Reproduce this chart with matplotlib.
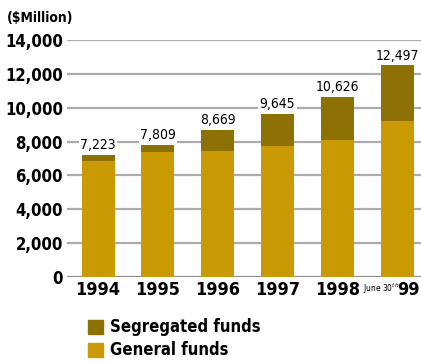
import matplotlib.pyplot as plt
import matplotlib.patches as mpatches
import matplotlib.transforms as mtransforms
import numpy as np

# values in $Million
years = ['1994', '1995', '1996', '1997', '1998', '99']
totals = [7223, 7809, 8669, 9645, 10626, 12497]
general = [6880, 7380, 7450, 7720, 8115, 9225]
segregated = [t - g for t, g in zip(totals, general)]
yticks = [0, 2000, 4000, 6000, 8000, 10000, 12000, 14000]

gen_color = '#c99a04'
seg_color = '#8d7104'
font = dict(family='DejaVu Sans', stretch='condensed')

fig = plt.figure(figsize=(4.21, 3.62), dpi=100)
ax = fig.add_axes([67/421, 85/362, 354/421, 237/362])

x = np.arange(len(years))
ax.bar(x, general, width=0.55, color=gen_color, zorder=3)
ax.bar(x, segregated, width=0.55, bottom=general, color=seg_color, zorder=3)

for xi, t in zip(x, totals):
    ax.annotate(f'{t:,}', (xi, t), xytext=(0, 2), textcoords='offset points',
                ha='center', va='bottom', fontsize=10, zorder=4,
                bbox=dict(facecolor='white', edgecolor='none', pad=1), **font)

ax.set_ylim(0, 14000)
ax.set_xlim(-0.52, 5.4)
ax.set_yticks(yticks)
ax.set_yticklabels([f'{v:,}' for v in yticks], fontsize=12, fontweight='bold', **font)
ax.set_xticks(x)
ax.set_xticklabels(years, fontsize=13, fontweight='bold', **font)
ax.tick_params(length=0, pad=3)
# the "99" label sits a bit right of its bar
last = ax.get_xticklabels()[-1]
last.set_transform(last.get_transform() + mtransforms.ScaledTranslation(0.11, 0, fig.dpi_scale_trans))
for s in ax.spines.values():
    s.set_visible(False)
for v in yticks:
    ax.axhline(v, color='#8f8f8f' if v == 0 else '#ababab', lw=1.6, zorder=1)

ax.text(4.73, -700, 'June 30$^{th}$', ha='center', va='center', fontsize=6, **font)
fig.text(7/421, 1 - 18/362, '($Million)', fontsize=10, fontweight='bold', va='center', **font)

handles = [mpatches.Patch(color=seg_color), mpatches.Patch(color=gen_color)]
fig.legend(handles, ['Segregated funds', 'General funds'], loc='upper left',
           bbox_to_anchor=(80/421, 1 - 310/362), frameon=False, handlelength=0.9,
           handleheight=0.9, handletextpad=0.4, labelspacing=0.3,
           prop=dict(size=12, weight='bold', **font), borderpad=0)

fig.savefig('out.png', dpi=100)
